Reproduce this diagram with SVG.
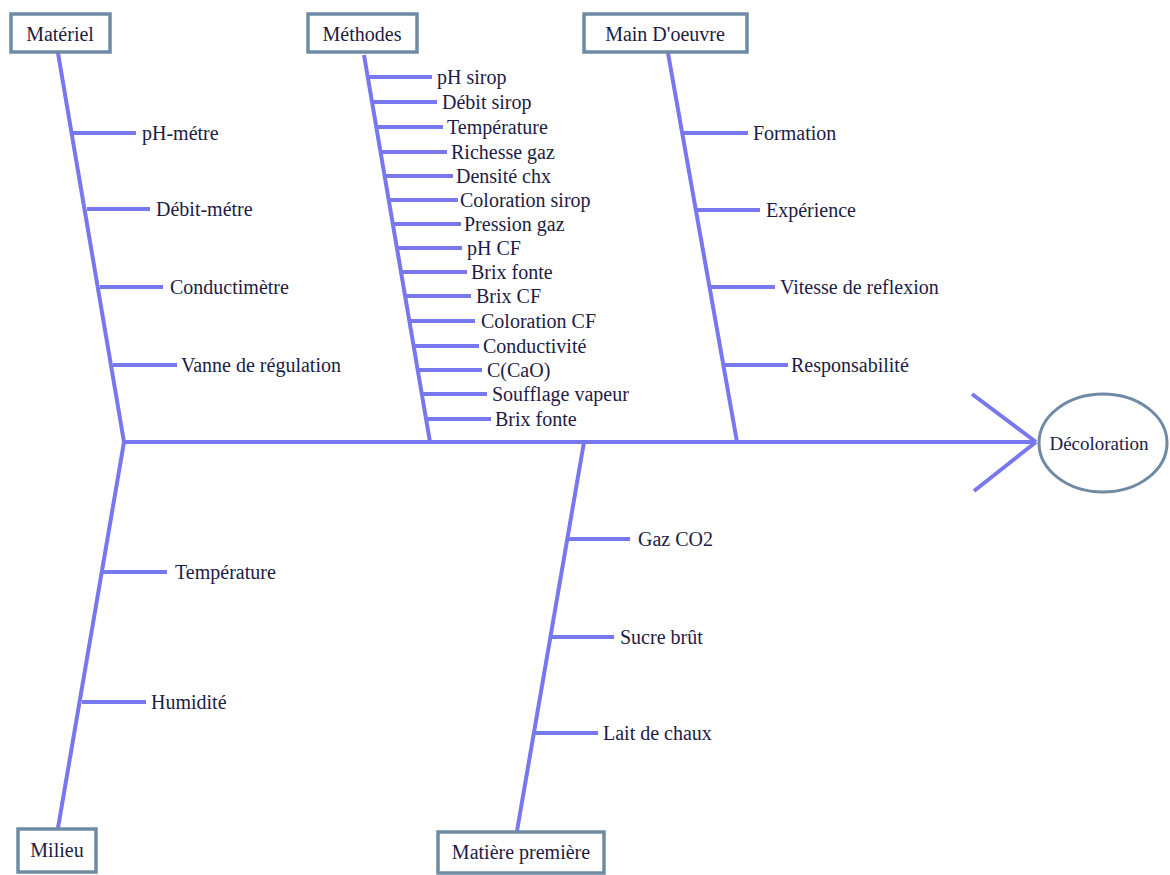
<svg xmlns="http://www.w3.org/2000/svg" width="1170" height="875" viewBox="0 0 1170 875">
<style>
.ln{stroke:#7878ee;stroke-width:4;fill:none;stroke-linecap:butt}
.bx{fill:#ffffff;stroke:#6e8aa4;stroke-width:3.5}
text{font-family:"Liberation Serif","Times New Roman",serif;font-size:20px;fill:#1c1c44}
.c{text-anchor:middle}
</style>
<rect width="1170" height="875" fill="#ffffff"/>
<g id="connectors">
<line class="ln" x1="122" y1="442" x2="1036" y2="442"/>
<line class="ln" x1="972" y1="394" x2="1036" y2="442"/>
<line class="ln" x1="974" y1="491" x2="1036" y2="442"/>
<line class="ln" x1="58" y1="53" x2="124" y2="442"/>
<line class="ln" x1="124" y1="442" x2="58" y2="828"/>
<line class="ln" x1="364" y1="55" x2="430" y2="442"/>
<line class="ln" x1="668" y1="53" x2="737" y2="442"/>
<line class="ln" x1="584" y1="442" x2="517" y2="831"/>
<line class="ln" x1="73" y1="133" x2="136" y2="133"/>
<line class="ln" x1="87" y1="209" x2="150" y2="209"/>
<line class="ln" x1="100" y1="287" x2="163" y2="287"/>
<line class="ln" x1="113" y1="365" x2="177" y2="365"/>
<line class="ln" x1="683" y1="133" x2="748" y2="133"/>
<line class="ln" x1="697" y1="210" x2="760" y2="210"/>
<line class="ln" x1="710" y1="287" x2="775" y2="287"/>
<line class="ln" x1="724" y1="365" x2="788" y2="365"/>
<line class="ln" x1="568" y1="539" x2="630" y2="539"/>
<line class="ln" x1="552" y1="637" x2="614" y2="637"/>
<line class="ln" x1="535" y1="733" x2="598" y2="733"/>
<line class="ln" x1="103" y1="572" x2="167" y2="572"/>
<line class="ln" x1="82" y1="702" x2="146" y2="702"/>
<line class="ln" x1="368" y1="77" x2="432" y2="77"/>
<line class="ln" x1="372" y1="102" x2="437" y2="102"/>
<line class="ln" x1="376" y1="127" x2="443" y2="127"/>
<line class="ln" x1="381" y1="152" x2="447" y2="152"/>
<line class="ln" x1="385" y1="176" x2="453" y2="176"/>
<line class="ln" x1="389" y1="200" x2="458" y2="200"/>
<line class="ln" x1="393" y1="224" x2="461" y2="224"/>
<line class="ln" x1="397" y1="248" x2="462" y2="248"/>
<line class="ln" x1="401" y1="272" x2="467" y2="272"/>
<line class="ln" x1="405" y1="296" x2="471" y2="296"/>
<line class="ln" x1="410" y1="321" x2="475" y2="321"/>
<line class="ln" x1="414" y1="346" x2="479" y2="346"/>
<line class="ln" x1="418" y1="370" x2="482" y2="370"/>
<line class="ln" x1="422" y1="394" x2="487" y2="394"/>
<line class="ln" x1="426" y1="419" x2="491" y2="419"/>
</g>
<g id="labels">
<text x="142" y="140">pH-métre</text>
<text x="156" y="216">Débit-métre</text>
<text x="170" y="294">Conductimètre</text>
<text x="181" y="372">Vanne de régulation</text>
<text x="753" y="140">Formation</text>
<text x="766" y="217">Expérience</text>
<text x="780" y="294">Vitesse de reflexion</text>
<text x="791" y="372">Responsabilité</text>
<text x="638" y="546">Gaz CO2</text>
<text x="620" y="644">Sucre brût</text>
<text x="603" y="740">Lait de chaux</text>
<text x="175" y="579">Température</text>
<text x="151" y="709">Humidité</text>
<text x="437" y="84">pH sirop</text>
<text x="442" y="109">Débit sirop</text>
<text x="447" y="134">Température</text>
<text x="451" y="159">Richesse gaz</text>
<text x="456" y="183">Densité chx</text>
<text x="460" y="207">Coloration sirop</text>
<text x="464" y="231">Pression gaz</text>
<text x="467" y="255">pH CF</text>
<text x="471" y="279">Brix fonte</text>
<text x="476" y="303">Brix CF</text>
<text x="481" y="328">Coloration CF</text>
<text x="483" y="353">Conductivité</text>
<text x="487" y="377">C(CaO)</text>
<text x="492" y="401">Soufflage vapeur</text>
<text x="495" y="426">Brix fonte</text>
</g>
<g id="node-materiel"><rect class="bx" x="11" y="14" width="99" height="38"/><text class="c" x="60" y="41">Matériel</text></g>
<g id="node-methodes"><rect class="bx" x="308" y="14" width="109" height="38"/><text class="c" x="362" y="41">Méthodes</text></g>
<g id="node-main-doeuvre"><rect class="bx" x="584" y="14" width="163" height="38"/><text class="c" x="665" y="41">Main D'oeuvre</text></g>
<g id="node-milieu"><rect class="bx" x="18" y="829" width="78" height="43"/><text class="c" x="57" y="857">Milieu</text></g>
<g id="node-matiere-premiere"><rect class="bx" x="438" y="832" width="166" height="41"/><text class="c" x="521" y="859">Matière première</text></g>
<g id="node-decoloration"><ellipse cx="1103" cy="443" rx="64" ry="49" fill="#ffffff" stroke="#6e8aa4" stroke-width="3"/><text class="c" x="1099" y="450" style="font-size:19px">Décoloration</text></g>
</svg>
